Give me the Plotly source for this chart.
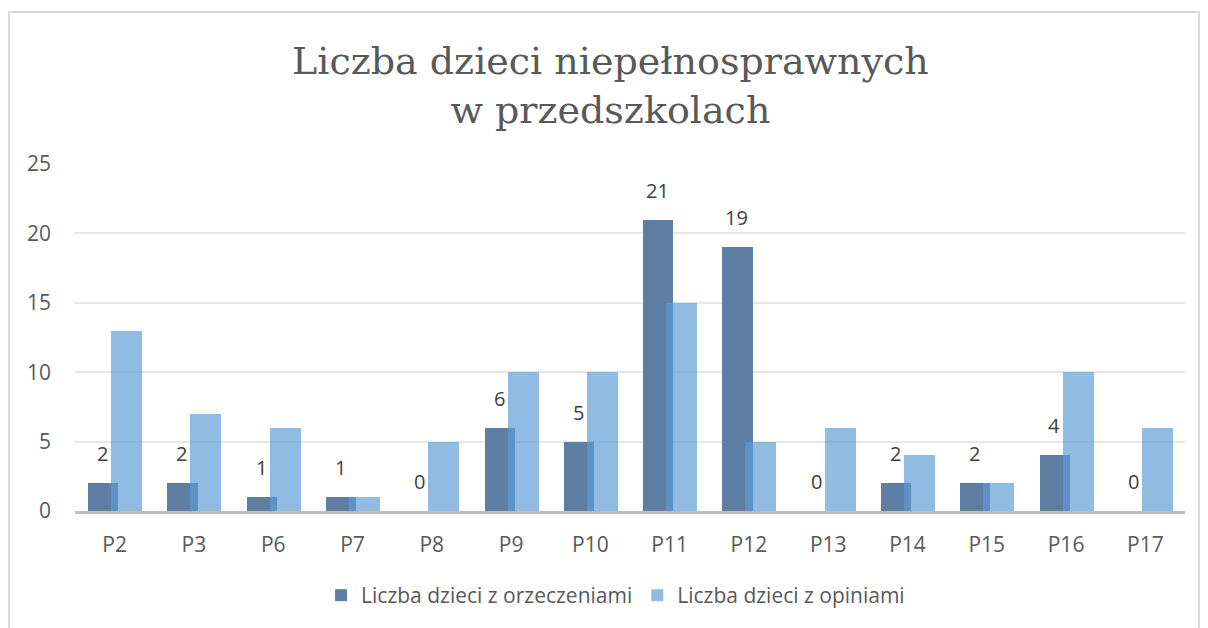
import plotly.graph_objects as go

# Dane z wykresu
categories = ["P2", "P3", "P6", "P7", "P8", "P9", "P10", "P11", "P12", "P13", "P14", "P15", "P16", "P17"]
orzeczenia = [2, 2, 1, 1, 0, 6, 5, 21, 19, 0, 2, 2, 4, 0]
opinie = [13, 7, 6, 1, 5, 10, 10, 15, 5, 6, 4, 2, 10, 6]

name_orz = "Liczba dzieci z orzeczeniami"
name_op = "Liczba dzieci z opiniami"

text_font = "'Open Sans', 'Noto Sans', sans-serif"

fig = go.Figure()
fig.add_trace(go.Bar(
    x=categories, y=orzeczenia, name=name_orz,
    marker=dict(color="rgb(94,127,163)", line=dict(width=0)),
    offset=-0.334, width=0.38,
))
fig.add_trace(go.Bar(
    x=categories, y=opinie, name=name_op,
    marker=dict(color="rgba(91,155,213,0.68)", line=dict(width=0)),
    offset=-0.044, width=0.39,
))

# etykiety danych tylko dla orzeczen
annotations = []
for cat, val in zip(categories, orzeczenia):
    annotations.append(dict(
        x=cat, y=val, text=str(val), showarrow=False,
        xshift=-12, yshift=14, yanchor="bottom",
        font=dict(family=text_font, size=20, color="#404040"),
    ))

# strona ma margines 8px, stad figura 1200x620
fig.update_layout(
    width=1200, height=620,
    paper_bgcolor="white", plot_bgcolor="white",
    margin=dict(l=67, r=23, t=156, b=115),
    barmode="overlay",
    bargap=0,
    title=dict(
        text="Liczba dzieci niepełnosprawnych<br>w przedszkolach",
        x=0.502, xanchor="center", xref="container",
        y=1 - 66 / 620, yanchor="middle", yref="container",
        font=dict(family="'DejaVu Serif', serif", size=38, color="#595959"),
    ),
    xaxis=dict(
        showgrid=False, showline=True, linecolor="#BFBFBF", linewidth=3,
        ticks="", ticklabelstandoff=13,
        tickfont=dict(family=text_font, size=21, color="#595959"),
    ),
    yaxis=dict(
        range=[0, 25], dtick=5, showgrid=True, gridcolor="#E6E6E6", gridwidth=1.5,
        zeroline=False, showline=False, ticks="", ticklabelstandoff=23,
        tickfont=dict(family=text_font, size=21, color="#595959"),
    ),
    legend=dict(
        orientation="h", x=0.487, xanchor="center", y=-0.2436, yanchor="middle",
        font=dict(family=text_font, size=21, color="#595959"),
        itemwidth=30, tracegroupgap=0,
    ),
    annotations=annotations,
    shapes=[dict(
        type="rect", xref="paper", yref="paper",
        x0=-0.0595, x1=1.0126, y0=-0.5, y1=1.438,
        line=dict(color="#D9D9D9", width=2), fillcolor="rgba(0,0,0,0)",
        layer="below",
    )],
)

fig.write_html("out.html")
